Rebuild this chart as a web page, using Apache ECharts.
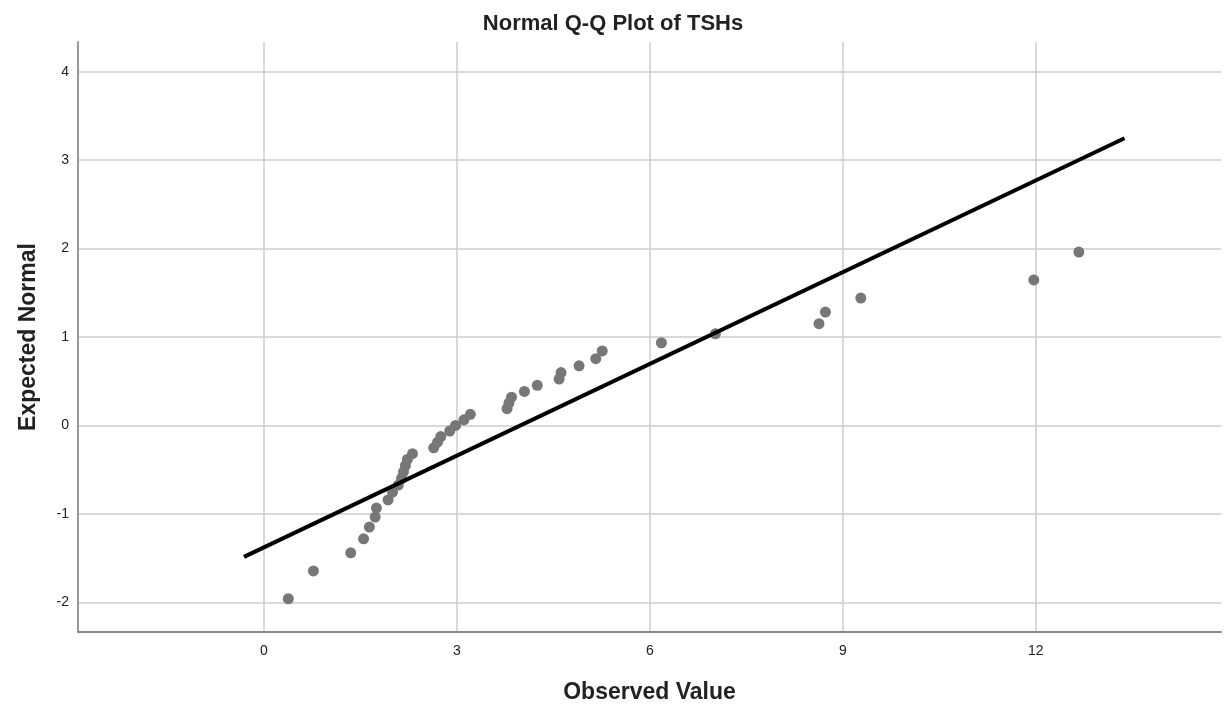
<!DOCTYPE html>
<html>
<head>
<meta charset="utf-8">
<script src="https://cdn.jsdelivr.net/npm/echarts@6/dist/echarts.min.js"></script>
<style>
html,body{margin:0;padding:0;background:#fff;}
#chart{width:1226px;height:706px;}
</style>
</head>
<body>
<div id="chart"></div>
<script>
// Observed TSH values (x) and their expected normal scores (y)
const observed = [0.38, 0.77, 1.35, 1.55, 1.64, 1.73, 1.75, 1.93, 2.00, 2.09,
  2.14, 2.17, 2.20, 2.23, 2.31, 2.64, 2.70, 2.75, 2.89, 2.98,
  3.11, 3.21, 3.78, 3.81, 3.85, 4.05, 4.25, 4.59, 4.62, 4.90,
  5.16, 5.26, 6.18, 7.02, 8.63, 8.73, 9.28, 11.97, 12.67];
const expected = [-1.960, -1.645, -1.440, -1.282, -1.150, -1.036, -0.935, -0.842, -0.755, -0.674,
  -0.598, -0.524, -0.454, -0.385, -0.319, -0.253, -0.189, -0.126, -0.063, 0.000,
  0.063, 0.126, 0.189, 0.253, 0.319, 0.385, 0.454, 0.524, 0.598, 0.674,
  0.755, 0.842, 0.935, 1.036, 1.150, 1.282, 1.440, 1.645, 1.960];
// Reference line end points
const refLineX = [-0.31, 13.38];
const refLineY = [-1.486, 3.247];
// Tick labels
const xTicks = [0, 3, 6, 9, 12];
const yTicks = [-2, -1, 0, 1, 2, 3, 4];

const pts = observed.map((v, i) => [v, expected[i]]);
const linePts = refLineX.map((v, i) => [v, refLineY[i]]);

const font = '"Liberation Sans", Arial, sans-serif';
const chart = echarts.init(document.getElementById('chart'), null, {renderer: 'canvas'});
chart.setOption({
  animation: false,
  backgroundColor: '#ffffff',
  title: {
    text: 'Normal Q-Q Plot of TSHs',
    left: 'center',
    top: 8,
    textStyle: {fontFamily: font, fontSize: 22, fontWeight: 'bold', color: '#222'}
  },
  grid: {left: 78, right: 5, top: 42, bottom: 74, containLabel: false, outerBoundsMode: 'none'},
  xAxis: {
    type: 'value',
    min: -2.89,
    max: 14.88,
    name: 'Observed Value',
    nameLocation: 'middle',
    nameGap: 49,
    nameTextStyle: {fontFamily: font, fontSize: 23, fontWeight: 'bold', color: '#222'},
    axisLine: {show: true, onZero: false, lineStyle: {color: '#888', width: 2}},
    axisTick: {show: false, customValues: xTicks},
    axisLabel: {customValues: xTicks, fontFamily: font, fontSize: 14, color: '#222', margin: 12},
    splitLine: {show: true, lineStyle: {color: '#cccccc', width: 1.5}}
  },
  yAxis: {
    type: 'value',
    min: -2.336,
    max: 4.336,
    name: 'Expected Normal',
    nameLocation: 'middle',
    nameGap: 38,
    nameRotate: 90,
    nameTextStyle: {fontFamily: font, fontSize: 23, fontWeight: 'bold', color: '#222'},
    axisLine: {show: true, onZero: false, lineStyle: {color: '#999', width: 2}},
    axisTick: {show: false, customValues: yTicks},
    axisLabel: {customValues: yTicks, fontFamily: font, fontSize: 14, color: '#222', margin: 9},
    splitLine: {show: true, lineStyle: {color: '#cccccc', width: 1.5}}
  },
  series: [
    {
      type: 'scatter',
      data: pts,
      symbol: 'circle',
      symbolSize: 11,
      itemStyle: {color: '#777777', opacity: 1},
      z: 2
    },
    {
      type: 'line',
      data: linePts,
      symbol: 'none',
      lineStyle: {color: '#000000', width: 4},
      z: 3
    }
  ]
});
</script>
</body>
</html>
